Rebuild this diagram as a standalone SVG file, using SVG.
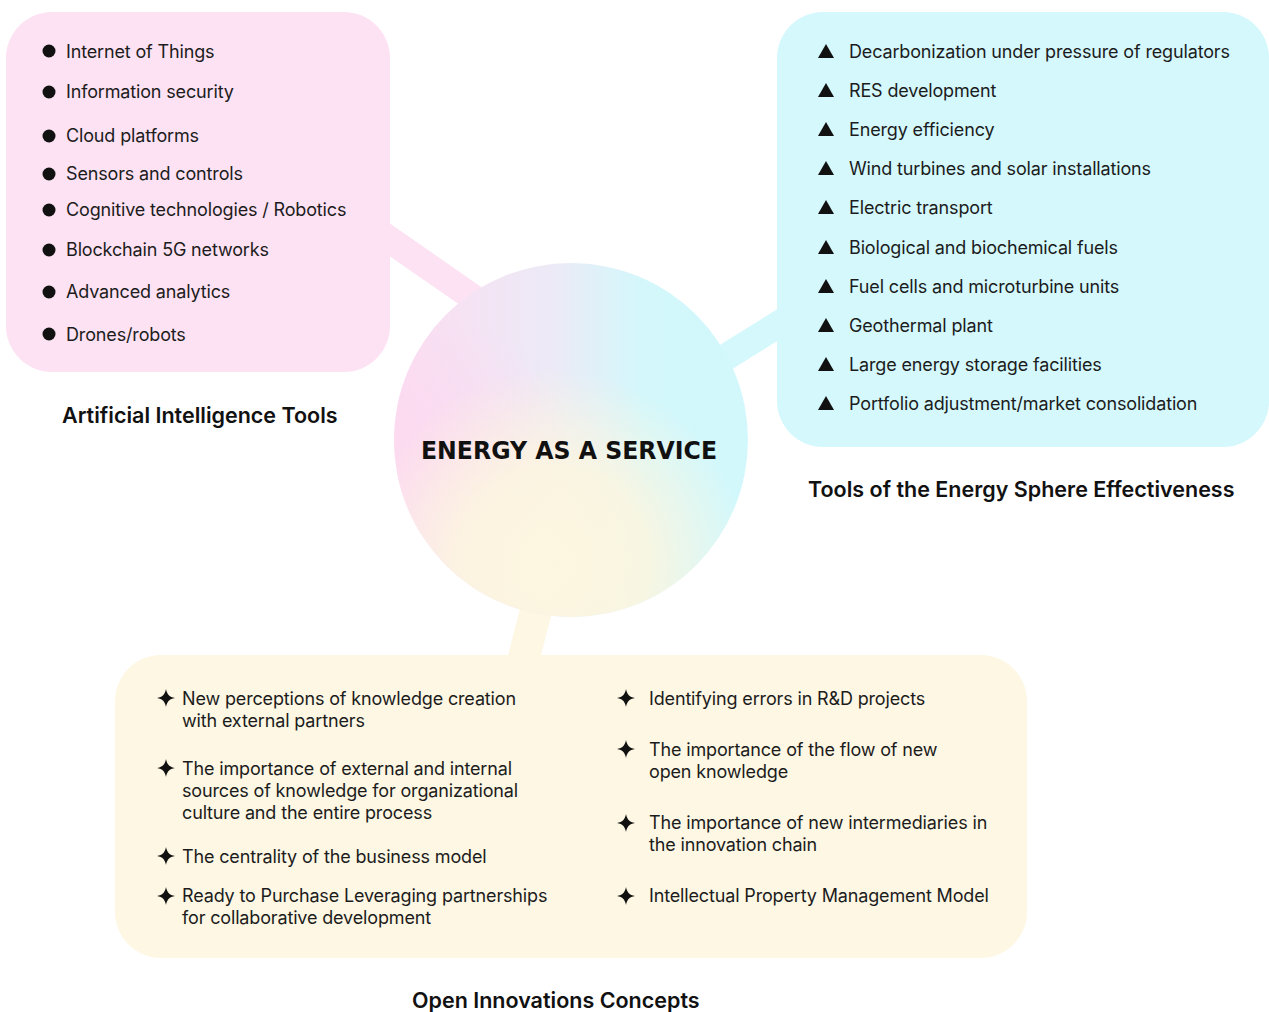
<svg xmlns="http://www.w3.org/2000/svg" width="1269" height="1012" viewBox="0 0 1269 1012">
<defs>
<style>
.t{font-family:Inter,"Open Sans","Liberation Sans",sans-serif;font-size:18px;letter-spacing:-0.15px;fill:#1c1c1c}
.h{font-family:Inter,"Open Sans","Liberation Sans",sans-serif;font-size:21.5px;font-weight:600;fill:#111}
.c{font-family:"DejaVu Sans","Liberation Sans",sans-serif;font-size:25px;font-weight:bold;fill:#111}
.link{fill:none;stroke-linecap:butt}
</style>
<linearGradient id="gBase" x1="0" y1="0" x2="1" y2="0">
<stop offset="0" stop-color="#fcdcf1"/>
<stop offset="0.45" stop-color="#eceaf6"/>
<stop offset="0.7" stop-color="#d3f7fb"/>
<stop offset="1" stop-color="#d2f8fc"/>
</linearGradient>
<radialGradient id="gYel" cx="0.45" cy="0.85" r="0.55">
<stop offset="0" stop-color="#fdf6df" stop-opacity="1"/>
<stop offset="0.5" stop-color="#fdf6df" stop-opacity="0.85"/>
<stop offset="1" stop-color="#fdf6df" stop-opacity="0"/>
</radialGradient>
<radialGradient id="gPink" cx="0.1" cy="0.55" r="0.4">
<stop offset="0" stop-color="#fcd9f0" stop-opacity="0.9"/>
<stop offset="1" stop-color="#fcd9f0" stop-opacity="0"/>
</radialGradient>
<symbol id="star" viewBox="-8 -8 16 16">
<path d="M0,-8 C1,-3 3,-1 8,0 C3,1 1,3 0,8 C-1,3 -3,1 -8,0 C-3,-1 -1,-3 0,-8Z" fill="#111"/>
</symbol>
</defs>
<rect width="1269" height="1012" fill="#fff"/>

<g id="connectors">
<line class="link" x1="370" y1="226" x2="482" y2="304" stroke="#fde2f3" stroke-width="27"/>
<line class="link" x1="718" y1="362" x2="795" y2="314" stroke="#d4f8fc" stroke-width="27"/>
<line class="link" x1="540" y1="595" x2="522" y2="665" stroke="#fdf7e4" stroke-width="32"/>
</g>

<g id="ai-tools">
<rect x="6" y="12" width="384" height="360" rx="46" fill="#fde2f3"/>
<g fill="#111">
<circle cx="49" cy="51" r="6.5"/><circle cx="49" cy="92" r="6.5"/><circle cx="49" cy="136" r="6.5"/><circle cx="49" cy="174" r="6.5"/>
<circle cx="49" cy="210" r="6.5"/><circle cx="49" cy="250" r="6.5"/><circle cx="49" cy="292" r="6.5"/><circle cx="49" cy="334" r="6.5"/>
</g>
<text class="t" x="66" y="58">Internet of Things</text>
<text class="t" x="66" y="98">Information security</text>
<text class="t" x="66" y="142">Cloud platforms</text>
<text class="t" x="66" y="180">Sensors and controls</text>
<text class="t" x="66" y="216">Cognitive technologies / Robotics</text>
<text class="t" x="66" y="256">Blockchain 5G networks</text>
<text class="t" x="66" y="298">Advanced analytics</text>
<text class="t" x="66" y="341">Drones/robots</text>
<text class="h" x="62" y="423">Artificial Intelligence Tools</text>
</g>

<g id="energy-tools">
<rect x="777" y="12" width="492" height="435" rx="46" fill="#d4f8fc"/>
<g fill="#111">
<path d="M826,44 L834,58 L818,58Z"/><path d="M826,83 L834,97 L818,97Z"/><path d="M826,122 L834,136 L818,136Z"/>
<path d="M826,161 L834,175 L818,175Z"/><path d="M826,200 L834,214 L818,214Z"/><path d="M826,240 L834,254 L818,254Z"/>
<path d="M826,279 L834,293 L818,293Z"/><path d="M826,318 L834,332 L818,332Z"/><path d="M826,357 L834,371 L818,371Z"/>
<path d="M826,396 L834,410 L818,410Z"/>
</g>
<text class="t" x="849" y="58">Decarbonization under pressure of regulators</text>
<text class="t" x="849" y="97">RES development</text>
<text class="t" x="849" y="136">Energy efficiency</text>
<text class="t" x="849" y="175">Wind turbines and solar installations</text>
<text class="t" x="849" y="214">Electric transport</text>
<text class="t" x="849" y="254">Biological and biochemical fuels</text>
<text class="t" x="849" y="293">Fuel cells and microturbine units</text>
<text class="t" x="849" y="332">Geothermal plant</text>
<text class="t" x="849" y="371">Large energy storage facilities</text>
<text class="t" x="849" y="410">Portfolio adjustment/market consolidation</text>
<text class="h" x="808" y="497">Tools of the Energy Sphere Effectiveness</text>
</g>

<g id="open-innovations">
<rect x="115" y="655" width="912" height="303" rx="46" fill="#fdf7e4"/>
<use href="#star" x="157" y="689" width="18" height="18"/>
<use href="#star" x="157" y="759" width="18" height="18"/>
<use href="#star" x="157" y="847" width="18" height="18"/>
<use href="#star" x="157" y="887" width="18" height="18"/>
<use href="#star" x="617" y="689" width="18" height="18"/>
<use href="#star" x="617" y="740" width="18" height="18"/>
<use href="#star" x="617" y="814" width="18" height="18"/>
<use href="#star" x="617" y="887" width="18" height="18"/>
<text class="t" x="182" y="705">New perceptions of knowledge creation</text>
<text class="t" x="182" y="727">with external partners</text>
<text class="t" x="182" y="775">The importance of external and internal</text>
<text class="t" x="182" y="797">sources of knowledge for organizational</text>
<text class="t" x="182" y="819">culture and the entire process</text>
<text class="t" x="182" y="863">The centrality of the business model</text>
<text class="t" x="182" y="902">Ready to Purchase Leveraging partnerships</text>
<text class="t" x="182" y="924">for collaborative development</text>
<text class="t" x="649" y="705">Identifying errors in R&amp;D projects</text>
<text class="t" x="649" y="756">The importance of the flow of new</text>
<text class="t" x="649" y="778">open knowledge</text>
<text class="t" x="649" y="829">The importance of new intermediaries in</text>
<text class="t" x="649" y="851">the innovation chain</text>
<text class="t" x="649" y="902">Intellectual Property Management Model</text>
<text class="h" x="412" y="1008">Open Innovations Concepts</text>
</g>

<g id="center">
<circle cx="571" cy="440" r="177" fill="url(#gBase)"/>
<circle cx="571" cy="440" r="177" fill="url(#gPink)"/>
<circle cx="571" cy="440" r="177" fill="url(#gYel)"/>
<text class="c" x="421" y="459" textLength="296" lengthAdjust="spacingAndGlyphs">ENERGY AS A SERVICE</text>
</g>
</svg>
